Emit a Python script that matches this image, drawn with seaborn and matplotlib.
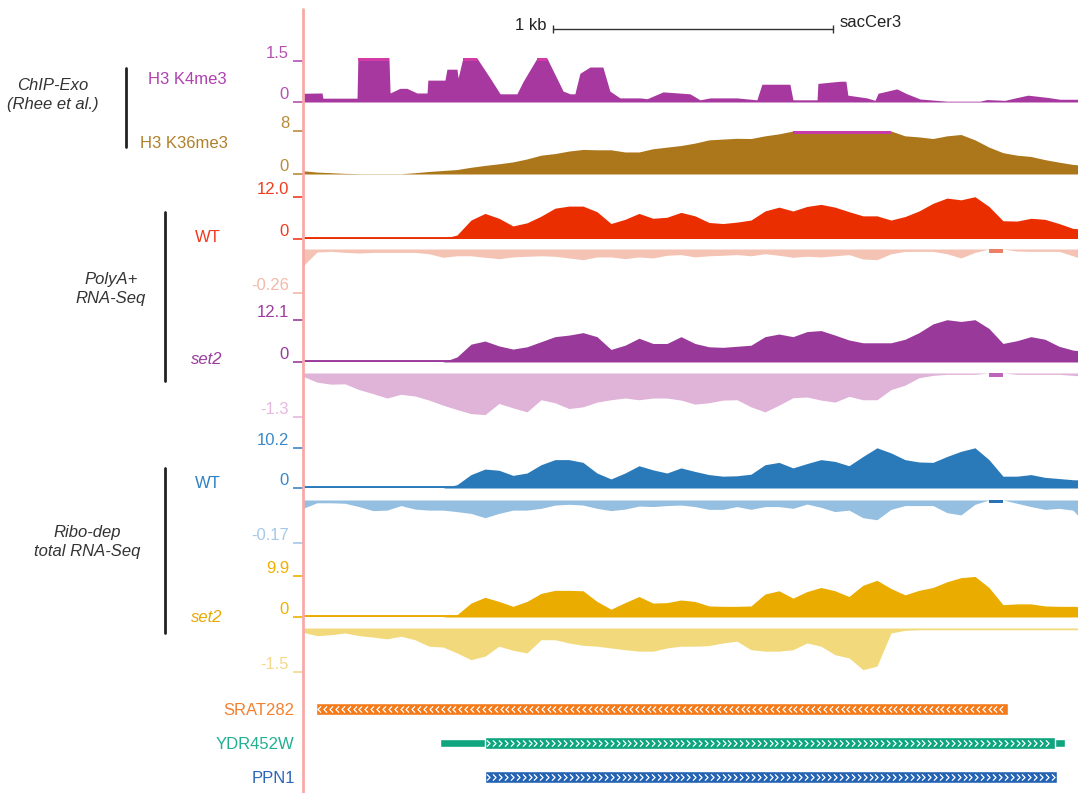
import numpy as np
import matplotlib
matplotlib.use('Agg')
import matplotlib.pyplot as plt
from matplotlib.path import Path
from matplotlib.lines import Line2D
import seaborn as sns

# === Region (bp from left edge of the browser window)
region_len = 2768
bin_pos = np.arange(0, 2801, 50)   # 50 bp bins for the coverage tracks

# === ChIP-Exo H3K4me3 (irregular knots, bp / value)
k4_pos = [0, 68, 71, 193, 196, 307, 311, 346, 371, 407, 443, 446, 507, 514, 550, 554,
          571, 621, 668, 704, 764, 786, 836, 871, 929, 954, 971, 989, 1025, 1071, 1096,
          1132, 1204, 1229, 1286, 1382, 1418, 1454, 1550, 1621, 1639, 1739, 1750, 1836,
          1839, 1918, 1939, 1946, 2014, 2043, 2054, 2121, 2157, 2204, 2300, 2418, 2443,
          2507, 2536, 2589, 2657, 2704, 2768]
k4_val = [0.32, 0.33, 0.14, 0.14, 1.8, 1.8, 0.33, 0.5, 0.5, 0.33, 0.33, 0.8, 0.8, 1.2,
          1.2, 0.88, 1.7, 1.7, 0.88, 0.3, 0.3, 0.75, 1.7, 1.7, 0.4, 0.3, 0.3, 1.05, 1.28,
          1.28, 0.4, 0.15, 0.15, 0.12, 0.37, 0.3, 0.08, 0.15, 0.15, 0.08, 0.65, 0.65, 0.08,
          0.08, 0.68, 0.76, 0.76, 0.25, 0.15, 0.06, 0.32, 0.48, 0.3, 0.11, 0.03, 0.03, 0.09,
          0.06, 0.13, 0.25, 0.17, 0.1, 0.1]

# === ChIP-Exo H3K36me3
k36_val = [0.6, 0.36, 0.24, 0.12, 0.06, 0.05, 0.05, 0.05, 0.24, 0.47, 0.65, 0.83, 1.25,
           1.6, 1.9, 2.25, 2.8, 3.5, 3.8, 4.27, 4.57, 4.5, 4.5, 4.1, 4.1, 4.7, 5.0, 5.3,
           5.75, 6.35, 6.5, 6.64, 6.6, 7.1, 7.47, 8.3, 8.3, 8.3, 8.3, 8.3, 8.3, 8.3, 8.3,
           7.1, 6.9, 6.6, 7.1, 7.35, 6.35, 5.0, 3.97, 3.5, 3.26, 2.67, 2.2, 1.78, 1.6]

# === PolyA+ RNA-Seq WT (plus / minus strand)
polya_wt_plus = [0, 0, 0, 0, 0, 0, 0, 0, 0, 0, 0, 1.0, 5.3, 7.2, 5.8, 3.6, 4.5, 6.4, 8.7,
                 9.3, 9.3, 7.7, 4.3, 5.5, 7.2, 5.8, 6.1, 7.5, 6.5, 4.6, 4.3, 4.7, 5.3, 7.9,
                 9.0, 7.9, 9.2, 9.8, 9.0, 7.7, 6.5, 6.5, 5.3, 6.3, 7.9, 10.1, 11.6, 11.1,
                 12.0, 9.2, 5.1, 5.0, 5.8, 5.5, 4.3, 2.9, 2.6]
polya_wt_minus = [-0.10, -0.018, -0.014, -0.02, -0.024, -0.02, -0.02, -0.02, -0.02, -0.028,
                  -0.049, -0.04, -0.04, -0.049, -0.057, -0.047, -0.043, -0.04, -0.043,
                  -0.053, -0.063, -0.047, -0.047, -0.057, -0.047, -0.053, -0.037, -0.033,
                  -0.047, -0.04, -0.037, -0.033, -0.04, -0.028, -0.037, -0.049, -0.043,
                  -0.047, -0.04, -0.033, -0.059, -0.063, -0.028, -0.014, -0.014, -0.014,
                  -0.028, -0.053, -0.02, 0.01, 0.01, -0.012, -0.014, -0.014, -0.014, -0.04,
                  -0.07]

# === PolyA+ RNA-Seq set2
polya_set2_plus = [0, 0, 0, 0, 0, 0, 0, 0, 0, 0, 0, 1.45, 5.1, 6.0, 4.6, 3.7, 4.35, 5.8,
                   7.25, 7.7, 8.4, 7.25, 3.6, 4.8, 6.8, 5.3, 5.3, 7.25, 5.3, 4.35, 4.2, 4.5,
                   4.8, 7.25, 8.0, 7.25, 8.7, 9.0, 7.7, 6.3, 5.5, 5.5, 5.5, 6.5, 8.4, 10.9,
                   12.1, 11.6, 12.1, 9.6, 5.3, 6.1, 7.25, 6.5, 4.5, 3.4, 3.0]
polya_set2_minus = [-0.1, -0.27, -0.33, -0.32, -0.49, -0.61, -0.74, -0.63, -0.68, -0.8,
                    -0.95, -1.08, -1.2, -1.23, -0.9, -1.03, -1.15, -0.79, -0.88, -1.05,
                    -1.0, -0.86, -0.79, -0.74, -0.79, -0.74, -0.74, -0.8, -0.92, -0.88,
                    -0.8, -0.79, -1.0, -1.15, -0.95, -0.73, -0.71, -0.8, -0.86, -0.69,
                    -0.79, -0.79, -0.49, -0.36, -0.14, -0.07, -0.04, -0.04, -0.04, 0.02,
                    0.02, -0.04, -0.04, -0.04, -0.04, -0.07, -0.1]

# === Ribo-depleted total RNA-Seq WT
ribo_wt_plus = [0, 0, 0, 0, 0, 0, 0, 0, 0, 0, 0, 0.84, 3.4, 4.8, 4.5, 3.2, 3.8, 5.9, 7.2,
                7.2, 6.5, 3.8, 2.3, 3.8, 5.65, 4.6, 3.8, 5.1, 4.2, 3.4, 3.0, 3.1, 3.5, 5.9,
                6.5, 5.1, 6.2, 7.2, 6.75, 5.65, 8.0, 10.2, 8.9, 7.2, 6.6, 6.5, 8.0, 9.3,
                10.2, 7.2, 3.0, 3.0, 3.4, 2.7, 2.4, 2.1, 2.0]
ribo_wt_minus = [-0.033, -0.011, -0.011, -0.013, -0.026, -0.042, -0.04, -0.022, -0.036,
                 -0.04, -0.04, -0.046, -0.053, -0.07, -0.053, -0.04, -0.04, -0.033, -0.02,
                 -0.017, -0.02, -0.033, -0.042, -0.036, -0.024, -0.026, -0.022, -0.02,
                 -0.026, -0.037, -0.037, -0.026, -0.037, -0.026, -0.026, -0.033, -0.016,
                 -0.029, -0.046, -0.04, -0.07, -0.078, -0.037, -0.022, -0.022, -0.022,
                 -0.05, -0.059, -0.017, 0.005, 0.005, -0.013, -0.026, -0.037, -0.033,
                 -0.04, -0.1]

# === Ribo-depleted total RNA-Seq set2
ribo_set2_plus = [0, 0, 0, 0, 0, 0, 0, 0, 0, 0, 0, 0.56, 3.4, 4.8, 3.8, 2.6, 3.8, 5.75,
                  6.5, 6.5, 6.4, 3.8, 1.9, 3.5, 5.0, 3.4, 3.5, 4.15, 3.8, 2.7, 2.6, 2.6,
                  2.7, 5.6, 6.4, 4.6, 6.2, 7.2, 6.4, 5.0, 7.75, 8.95, 6.95, 5.4, 6.5, 7.2,
                  8.6, 9.6, 9.9, 7.2, 3.0, 3.2, 3.2, 2.7, 2.6, 2.6, 2.5]
ribo_set2_minus = [-0.15, -0.26, -0.23, -0.17, -0.26, -0.31, -0.37, -0.28, -0.4, -0.62,
                   -0.65, -0.85, -1.08, -0.96, -0.62, -0.76, -0.85, -0.4, -0.4, -0.51,
                   -0.59, -0.62, -0.68, -0.74, -0.79, -0.79, -0.68, -0.62, -0.62, -0.6,
                   -0.51, -0.45, -0.74, -0.79, -0.79, -0.74, -0.51, -0.62, -0.91, -1.02,
                   -1.42, -1.3, -0.17, -0.08, -0.06, -0.06, -0.06, -0.06, -0.06, -0.06,
                   -0.06, -0.06, -0.06, -0.06, -0.06, -0.06, -0.06]

# === Genes
genes = ['SRAT282', 'YDR452W', 'PPN1']
gene_start = [46, 489, 650]
gene_end = [2518, 2721, 2693]
thick_start = [46, 650, 650]
thick_end = [2518, 2686, 2693]
strand = ['-', '+', '+']

scale_start = 893   # 1 kb scale bar

# ------------------------------------------------------------------
sns.set_theme(style='white')
plt.rcParams['font.family'] = ['Liberation Sans', 'DejaVu Sans']

W, H = 1078, 793
fig = plt.figure(figsize=(W / 100, H / 100), dpi=100)
X0, X1 = 303, 1078


def box(x0, y0, x1, y1):
    return [x0 / W, 1 - y1 / H, (x1 - x0) / W, (y1 - y0) / H]


def ftext(x, y, s, **kw):
    fig.text(x / W, 1 - y / H, s, **kw)


def track(y0, y1, pos, vals, lo, hi, color, tcolor, ticks, labels,
          clip_color=None, baseline=False):
    ax = fig.add_axes(box(X0, y0, X1, y1))
    ax.set_facecolor('none')
    vals = np.asarray(vals, dtype=float)
    ax.fill_between(pos, 0, np.clip(vals, lo, hi), color=color, lw=0)
    if baseline:
        ax.axhline(0, color=color, lw=2.8)
    if clip_color is not None:
        if hi > 0 and lo >= 0:
            ax.fill_between(pos, hi - 0.075 * (hi - lo), hi, where=vals > hi,
                            color=clip_color, lw=0)
        else:
            ax.fill_between(pos, 0.08 * lo, 0, where=vals > 0,
                            color=clip_color, lw=0)
    ax.set_xlim(0, region_len)
    ax.set_ylim(lo, hi)
    ax.set_xticks([])
    ax.set_yticks(ticks)
    ax.set_yticklabels(labels, color=tcolor, fontsize=12, va='bottom')
    ax.tick_params(axis='y', left=True, length=7, width=1.2, color=tcolor, pad=3)
    sns.despine(ax=ax, left=True, bottom=True)
    return ax


# ChIP-Exo
track(58, 102, k4_pos, k4_val, 0, 1.61, '#a6389f', '#b452b4', [0, 1.5], ['0', '1.5'],
      clip_color='#d23aa6')
track(131, 174, bin_pos, k36_val, 0, 8, '#ac761b', '#b98b3c', [0, 8], ['0', '8'],
      clip_color='#c83caa')

# PolyA+ RNA-Seq
track(196, 238.5, bin_pos, polya_wt_plus, 0, 12.2, '#ea2e00', '#f03c1c', [0, 12.0],
      ['0', '12.0'], baseline=True)
track(249, 293, bin_pos, polya_wt_minus, -0.26, 0, '#f4c3b3', '#f5b9a9', [-0.26],
      ['-0.26'], clip_color='#ec7f66')
track(319, 362, bin_pos, polya_set2_plus, 0, 12.3, '#993a9b', '#9c3c9c', [0, 12.1],
      ['0', '12.1'], baseline=True)
track(373, 417, bin_pos, polya_set2_minus, -1.3, 0, '#e0b3d8', '#e6b8de', [-1.3],
      ['-1.3'], clip_color='#bb66bb')

# Ribo-dep total RNA-Seq
track(447, 488, bin_pos, ribo_wt_plus, 0, 10.4, '#2a7aba', '#3a88c8', [0, 10.2],
      ['0', '10.2'], baseline=True)
track(500, 543, bin_pos, ribo_wt_minus, -0.17, 0, '#94bfe1', '#a6c8e8', [-0.17],
      ['-0.17'], clip_color='#2a72b8')
track(576, 617, bin_pos, ribo_set2_plus, 0, 10.0, '#ebac00', '#f0b000', [0, 9.9],
      ['0', '9.9'], baseline=True)
track(628, 672, bin_pos, ribo_set2_minus, -1.5, 0, '#f2d97c', '#f5d98a', [-1.5], ['-1.5'])

# === Genes
gax = fig.add_axes(box(X0, 692, X1, 794))
gax.set_facecolor('none')
rows = np.arange(len(genes))
gene_cols = ['#f57a1a', '#0ea57f', '#2463b3']
gax.barh(rows, np.subtract(gene_end, gene_start), left=gene_start, height=0.21,
         color=gene_cols)
gax.barh(rows, np.subtract(thick_end, thick_start), left=thick_start, height=0.36,
         color=gene_cols)
fwd = Path([(-0.5, 1), (0.5, 0), (-0.5, -1)], [Path.MOVETO, Path.LINETO, Path.LINETO])
rev = Path([(0.5, 1), (-0.5, 0), (0.5, -1)], [Path.MOVETO, Path.LINETO, Path.LINETO])
for r in rows:
    xs = np.arange(thick_start[r] + 12, thick_end[r] - 8, 21)
    gax.plot(xs, np.full(len(xs), r), ls='none', marker=fwd if strand[r] == '+' else rev,
             ms=4.5, mew=0.9, mec='white', mfc='none')
gax.set_xlim(0, region_len)
gax.set_ylim(2.5, -0.5)
gax.set_xticks([])
gax.set_yticks(rows)
gax.set_yticklabels(genes, fontsize=12)
for lbl, c in zip(gax.get_yticklabels(), ['#f58030', '#22b092', '#2a66b8']):
    lbl.set_color(c)
gax.tick_params(axis='y', length=0, pad=6)
sns.despine(ax=gax, left=True, bottom=True)

# === Scale bar
sax = fig.add_axes(box(X0, 14, X1, 44))
sax.set_facecolor('none')
sax.plot([scale_start, scale_start + 1000], [0.5, 0.5], color='#333333', lw=1)
sax.vlines([scale_start, scale_start + 1000], 0.36, 0.64, color='#333333', lw=1)
sax.text(scale_start - 25, 0.6, '1 kb', ha='right', va='center', fontsize=12,
         color='#222222')
sax.text(scale_start + 1025, 0.72, 'sacCer3', ha='left', va='center', fontsize=12,
         color='#222222')
sax.set_xlim(0, region_len)
sax.set_ylim(0, 1)
sax.axis('off')

# === Left border of the tracks
fig.add_artist(Line2D([X0 / W, X0 / W], [1 - 9 / H, 0], color='#f7a9a9', lw=2,
                      transform=fig.transFigure))

# === Track and group labels
lab = dict(ha='right', va='center', fontsize=12)
ftext(227, 80, 'H3 K4me3', color='#b040b0', **lab)
ftext(228, 143, 'H3 K36me3', color='#b0802a', **lab)
ftext(221, 238, 'WT', color='#f03a1e', **lab)
ftext(222, 359, 'set2', color='#9c3c9c', style='italic', **lab)
ftext(221, 484, 'WT', color='#2f80c4', **lab)
ftext(222, 618, 'set2', color='#e8a800', style='italic', **lab)

grp = dict(ha='center', va='center', fontsize=12, color='#333333', style='italic',
           linespacing=1.4)
ftext(53, 95, 'ChIP-Exo\n(Rhee et al.)', **grp)
ftext(111, 289, 'PolyA+\nRNA-Seq', **grp)
ftext(87, 542, 'Ribo-dep\ntotal RNA-Seq', **grp)

for x, ya, yb in [(126, 68, 147), (165, 212, 381), (165, 468, 633)]:
    fig.add_artist(Line2D([x / W, x / W], [1 - ya / H, 1 - yb / H], color='#222222',
                          lw=2, transform=fig.transFigure))

fig.savefig('out.png', dpi=100, facecolor='white')
